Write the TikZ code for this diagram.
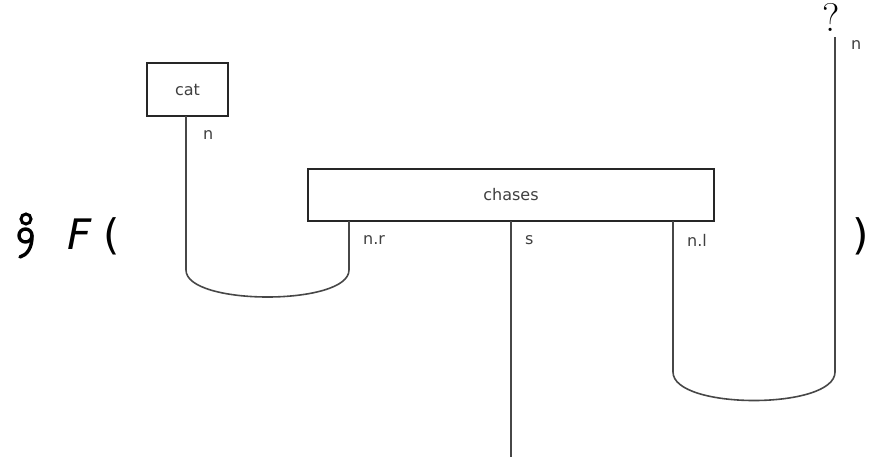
\documentclass[tikz,border=0pt]{standalone}
\usepackage{fontspec}
\setmainfont{DejaVu Sans}
\newfontfamily\cmfont{Latin Modern Roman}
\begin{document}
\begin{tikzpicture}[x=1pt,y=-1pt,
  wire/.style={draw=black!72, line width=1.6pt},
  box/.style={draw=black!85, line width=1.6pt, fill=white},
  lbl/.style={text=black!75, font=\fontsize{16}{18}\selectfont, inner sep=0pt},
  big/.style={font=\fontsize{42}{48}\selectfont, inner sep=0pt},
  glyph/.style={draw=black, line width=3.4pt}]
\useasboundingbox (0,0) rectangle (894,459);
% boxes
\draw[box] (147,63) rectangle (228,116);
\node[lbl] (cat) at (187.5,89.5) {cat};
\draw[box] (308,169) rectangle (714,221);
\node[lbl] (chases) at (511,195) {chases};
% coordinates
\coordinate (catout) at (186,116);
\coordinate (nr) at (349,221);
\coordinate (s) at (511,221);
\coordinate (nl) at (673,221);
\coordinate (send) at (511,457);
\coordinate (qtop) at (835,37);
% wires
\draw[wire] (catout) -- (186,270) .. controls (186,306) and (349,306) .. (349,270) -- (nr);
\draw[wire] (s) -- (send);
\draw[wire] (nl) -- (673,372) .. controls (673,410) and (835,410) .. (835,372) -- (qtop);
% labels
\node[lbl, anchor=west] (ln) at (203,135) {n};
\node[lbl, anchor=west] (lnr) at (363,240) {n.r};
\node[lbl, anchor=west] (ls) at (525,240) {s};
\node[lbl, anchor=west] (lnl) at (687,240) {n.l};
\node[lbl, anchor=west] (ln2) at (851,45) {n};
\node[font=\cmfont\fontsize{40}{46}\selectfont, inner sep=0pt] (q) at (831,17) {?};
% composition symbol (no installed font has it)
\draw[glyph, line width=3pt] (26,219) circle[radius=5];
\draw[glyph] (25.5,235.5) circle[radius=6.5];
\draw[glyph, line cap=round] (32,235.5) .. controls (32.3,248) and (27,255) .. (20,257);
% outer text
\node[big, anchor=base] (F) at (80,249) {\itshape F};
\node[big, anchor=base] (lp) at (112,249) {(};
\node[big, anchor=base] (rp) at (861,249) {)};
\end{tikzpicture}
\end{document}
